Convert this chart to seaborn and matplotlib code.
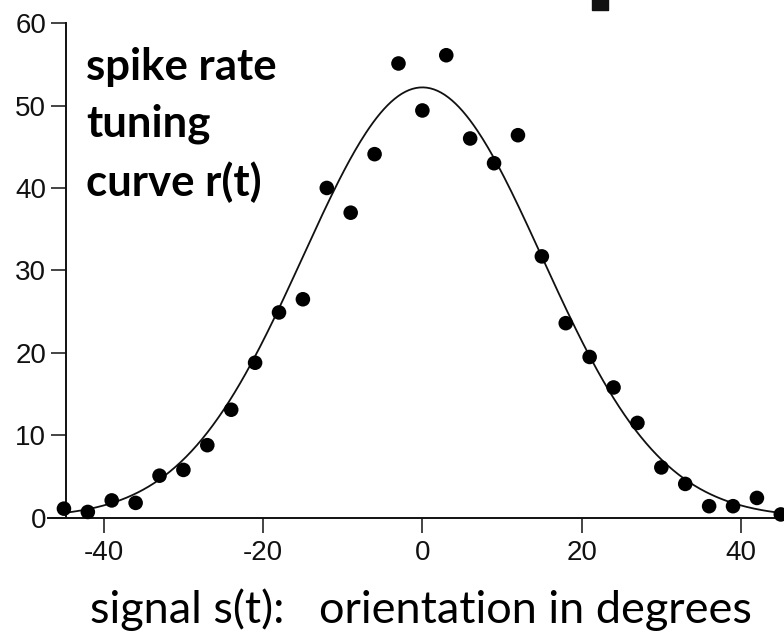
import numpy as np
import pandas as pd
import matplotlib
matplotlib.use('Agg')
import matplotlib.pyplot as plt
import seaborn as sns

orientation = [-45, -42, -39, -36, -33, -30, -27, -24, -21, -18, -15, -12, -9, -6, -3,
               0, 3, 6, 9, 12, 15, 18, 21, 24, 27, 30, 33, 36, 39, 42, 45]
spike_rate = [1.1, 0.7, 2.1, 1.8, 5.1, 5.8, 8.8, 13.1, 18.8, 24.9, 26.5, 40.0, 37.0, 44.1, 55.1,
              49.4, 56.1, 46.0, 43.0, 46.4, 31.7, 23.6, 19.5, 15.8, 11.5, 6.1, 4.1, 1.4, 1.4, 2.4, 0.4]

# gaussian tuning curve fitted to the points: peak, preferred orientation, width
r_max = 52.2
s_pref = 0.0
sigma = 15.0

# stray square at the top edge of the slide
stray_x = [22.3]
stray_y = [62.6]

x_ticks = [-40, -20, 0, 20, 40]
y_ticks = [0, 10, 20, 30, 40, 50, 60]

points = pd.DataFrame({'orientation': orientation, 'rate': spike_rate})
s_fine = np.linspace(-45, 45, 400)
curve = pd.DataFrame({'orientation': s_fine,
                      'rate': r_max * np.exp(-(s_fine - s_pref) ** 2 / (2 * sigma ** 2))})

sns.set_style('ticks')
plt.rcParams['font.family'] = ['Liberation Sans', 'DejaVu Sans']
plt.rcParams['axes.unicode_minus'] = False

fig = plt.figure(figsize=(7.84, 6.33), dpi=100)
ax = fig.add_axes([48 / 784, 82.3 / 633, 736 / 784, 550.7 / 633])

sns.lineplot(data=curve, x='orientation', y='rate', color='#111111', linewidth=1.3, ax=ax)
sns.scatterplot(data=points, x='orientation', y='rate', color='black', s=110,
                edgecolor='none', ax=ax, clip_on=False, zorder=3)
ax.scatter(stray_x, stray_y, marker='s', s=130, color='#111111', clip_on=False, zorder=3)

ax.set_xlim(-47, 45.4)
ax.set_ylim(-4, 62.8)
ax.set_xticks(x_ticks)
ax.set_yticks(y_ticks)
ax.set_xlabel('')
ax.set_ylabel('')

for side in ['top', 'right']:
    ax.spines[side].set_visible(False)
ax.spines['left'].set_position(('data', -44.8))
ax.spines['left'].set_bounds(0, 60)
ax.spines['bottom'].set_position(('data', 0))
for side in ['left', 'bottom']:
    ax.spines[side].set_linewidth(1.4)
    ax.spines[side].set_color('#111111')
ax.tick_params(axis='both', length=11, width=1.1, color='#111111', labelsize=20,
               labelcolor='#111111')
ax.tick_params(axis='x', pad=5)
ax.tick_params(axis='y', pad=3)

fig.text(86 / 784, 1 - 47 / 633, 'spike rate\ntuning\ncurve r(t)', family='Lato',
         fontweight='bold', fontsize=31.5, va='top', ha='left', linespacing=1.5,
         color='black')
fig.text(421 / 784, (633 - 623) / 633, 'signal s(t):   orientation in degrees',
         family='Lato', fontsize=32.5, va='baseline', ha='center', color='black')

fig.savefig('out.png', dpi=100)
